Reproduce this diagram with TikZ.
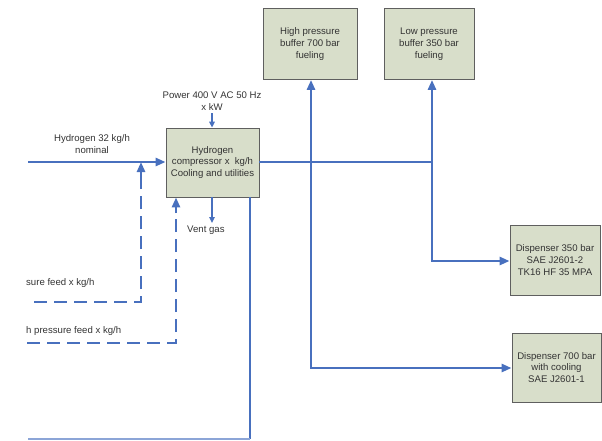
\documentclass[tikz,border=0pt]{standalone}
\usepackage{fontspec}
\setmainfont{Liberation Sans}
\usetikzlibrary{arrows.meta}
\definecolor{flow}{RGB}{72,112,190}
\definecolor{flowlight}{RGB}{140,165,215}
\definecolor{boxfill}{RGB}{216,222,202}
\definecolor{boxline}{RGB}{95,95,95}
\begin{document}
\begin{tikzpicture}[x=1pt,y=-1pt,
  every node/.style={font=\fontsize{9.6}{11.8}\selectfont, text=black!80, align=center, inner sep=0pt},
  unit/.style={draw=boxline, line width=0.8pt, fill=boxfill},
  pipe/.style={draw=flow, line width=2.6pt},
  thinpipe/.style={draw=flow, line width=1.4pt},
  dashpipe/.style={draw=flow, line width=2.6pt, dash pattern=on 13pt off 7pt},
  tip/.style={-{Triangle[length=10pt,width=8pt]}},
  smalltip/.style={-{Triangle[length=6pt,width=5.5pt]}}
]
\useasboundingbox (0,0) rectangle (602,440);

% units
\node[unit, minimum width=93pt, minimum height=69pt] (comp) at (212.5,162.5)
  {Hydrogen\\compressor x\ \ kg/h\\Cooling and utilities};
\node[unit, minimum width=94pt, minimum height=71pt] (hp) at (310,44)
  {High pressure\\buffer 700 bar\\fueling};
\node[unit, minimum width=90pt, minimum height=71pt] (lp) at (429,44)
  {Low pressure\\buffer 350 bar\\fueling};
\node[unit, minimum width=90pt, minimum height=70pt] (dlo) at (555,260)
  {Dispenser 350 bar\\SAE J2601-2\\TK16 HF 35 MPA};
\node[unit, minimum width=89pt, minimum height=69pt] (dhi) at (556.5,367.5)
  {Dispenser 700 bar\\with cooling\\SAE J2601-1};

% labels
\node (lblin) at (92,144) {Hydrogen 32 kg/h\\nominal};
\node (lblpow) at (212,101) {Power 400 V AC 50 Hz\\x kW};
\node[anchor=west] (lblvent) at (187,230) {Vent gas};
\node[anchor=west] (lblfeed1) at (26,283) {sure feed x kg/h};
\node[anchor=west] (lblfeed2) at (26,331) {h pressure feed x kg/h};

% coordinates
\coordinate (in) at (28,162);
\coordinate (j1) at (311,162);
\coordinate (j2) at (432,162);
\coordinate (c700) at (311,368);
\coordinate (c350) at (432,261);
\coordinate (pow) at (212,113);
\coordinate (vent) at (212,223);
\coordinate (f1a) at (34,302);
\coordinate (f1b) at (141,302);
\coordinate (f1c) at (141,162);
\coordinate (f2a) at (27,343);
\coordinate (f2b) at (176,343);
\coordinate (ret) at (250,439);
\coordinate (retend) at (28,439);

% main flow
\draw[pipe, tip] (in) -- (comp.west |- in);
\draw[pipe] (comp.east |- j1) -- (j1);
\draw[pipe, tip] (j1) -- (j1 |- hp.south);
\draw[pipe, tip] (j2 |- 0,170) -- (j2 |- lp.south);
\draw[pipe, tip] (j1) -- (c700) -- (dhi.west |- c700);
\draw[pipe, tip] (j1) -- (j2) -- (c350) -- (dlo.west |- c350);
\fill[flow] (j1) circle (1.8pt);

% utilities
\draw[thinpipe, smalltip] (pow) -- (comp.north -| pow);
\draw[thinpipe, smalltip] (comp.south -| vent) -- (vent);

% dashed feeds
\draw[dashpipe] (f1a) -- (f1b) -- (141,175);
\draw[pipe, tip] (141,178) -- (f1c);
\draw[dashpipe] (f2a) -- (f2b) -- (176,212);
\draw[pipe, tip] (176,213) -- (comp.south -| f2b);

% return line
\draw[pipe, line width=2.8pt] (comp.south -| ret) -- (ret);
\draw[draw=flowlight, line width=1.4pt] (ret) -- (retend);
\end{tikzpicture}
\end{document}
